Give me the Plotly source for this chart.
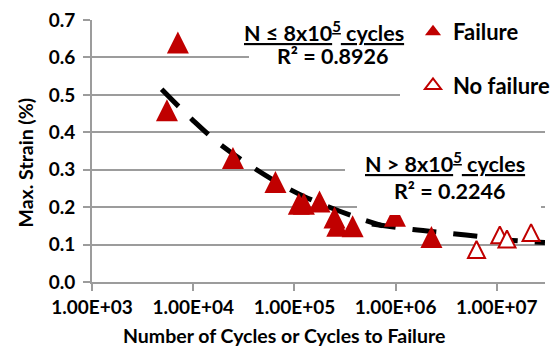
import plotly.graph_objects as go

RED = "#C00000"
GRID = "#9C9C9C"
FONT = "Lato"

# Fatigue results: cycles reached and peak strain (%)
fail_cycles = [5500, 7060, 24700, 64900, 110600, 124000, 177000, 249000, 265000, 376000, 985000, 2.26e6]
fail_strain = [0.459, 0.640, 0.331, 0.267, 0.209, 0.209, 0.215, 0.172, 0.150, 0.149, 0.177, 0.120]
runout_cycles = [6.30e6, 1.07e7, 1.26e7, 2.18e7]
runout_strain = [0.087, 0.126, 0.115, 0.132]

# Power-law trend lines, sampled along each fit
trend_low_cycles = [4875, 9770, 19680, 61380, 121340, 396300, 748000]
trend_low_strain = [0.515, 0.434, 0.362, 0.273, 0.230, 0.174, 0.150]
trend_high_cycles = [5.82e5, 1.48e6, 4.95e6, 1.29e7, 2.99e7]
trend_high_strain = [0.155, 0.140, 0.1257, 0.1123, 0.1056]

x_tick_vals = [1e3, 1e4, 1e5, 1e6, 1e7]
x_tick_text = ["1.00E+03", "1.00E+04", "1.00E+05", "1.00E+06", "1.00E+07"]
y_tick_vals = [0.0, 0.1, 0.2, 0.3, 0.4, 0.5, 0.6, 0.7]

W, H = 558, 346
ML, MR, MT, MB = 92, 13, 20, 64
PW, PH = W - ML - MR, H - MT - MB


def px_x(p):
    return (p - ML) / PW


def px_y(p):
    return (H - MB - p) / PH


fig = go.Figure()

trend_line = dict(color="black", width=5, dash="24px,17px")
fig.add_trace(go.Scatter(x=trend_low_cycles, y=trend_low_strain, mode="lines",
                         line=trend_line, line_shape="spline", showlegend=False,
                         hoverinfo="skip"))
fig.add_trace(go.Scatter(x=trend_high_cycles, y=trend_high_strain, mode="lines",
                         line=trend_line, line_shape="spline", showlegend=False,
                         hoverinfo="skip"))

# upright triangles centred on each point (arrow-down flipped, pushed back by half its height)
fig.add_trace(go.Scatter(
    x=fail_cycles, y=fail_strain, mode="markers", name="Failure",
    showlegend=False,
    marker=dict(symbol="arrow-down", angle=180, size=22, standoff=11, color=RED,
                line=dict(width=0)),
))
fig.add_trace(go.Scatter(
    x=runout_cycles, y=runout_strain, mode="markers", name="No failure",
    showlegend=False,
    marker=dict(symbol="arrow-down", angle=180, size=17, standoff=8.5, color="white",
                line=dict(width=2, color=RED)),
))

# legend entries (the legend does not apply marker standoff, so use plain triangles)
fig.add_trace(go.Scatter(
    x=[None], y=[None], mode="markers", name="Failure", legendgroup="fail",
    marker=dict(symbol="triangle-up", size=14, color=RED, line=dict(width=0)),
))
fig.add_trace(go.Scatter(
    x=[None], y=[None], mode="markers", name="No failure", legendgroup="runout",
    marker=dict(symbol="triangle-up", size=14, color="white",
                line=dict(width=2, color=RED)),
))

# white text-box backgrounds that sit over the gridlines
boxes = [
    (226, 558, 8, 42),
    (249, 558, 42, 78),
    (400, 558, 78, 115),
    (345, 558, 148, 190),
    (357, 541, 190, 215),
]
for x0, x1, y0, y1 in boxes:
    fig.add_shape(type="rect", xref="paper", yref="paper",
                  x0=px_x(x0), x1=px_x(x1), y0=px_y(y1), y1=px_y(y0),
                  fillcolor="white", line=dict(width=0), layer="above")

label_font = dict(family=FONT, size=21.5, color="black", weight="bold")
labels = [
    ("<u>N ≤ 8x10<sup>5</sup> cycles</u>", 324, 31),
    ("R² = 0.8926", 332, 56),
    ("<u>N > 8x10<sup>5</sup> cycles</u>", 445, 162),
    ("R² = 0.2246", 449, 191),
]
for text, cx, cy in labels:
    fig.add_annotation(text=text, xref="paper", yref="paper",
                       x=px_x(cx), y=px_y(cy), xanchor="center", yanchor="middle",
                       showarrow=False, font=label_font, borderpad=0)

title_font = dict(family=FONT, size=19.5, color="black", weight="bold")
fig.add_annotation(text="Number of Cycles or Cycles to Failure", xref="paper", yref="paper",
                   x=px_x(283.5), y=px_y(335), xanchor="center", yanchor="middle",
                   showarrow=False, font=title_font, borderpad=0)
fig.add_annotation(text="Max. Strain (%)", xref="paper", yref="paper",
                   x=px_x(25), y=px_y(162.5), xanchor="center", yanchor="middle",
                   textangle=-90, showarrow=False, font=title_font)

tick_font = dict(family=FONT, size=19, color="black", weight="bold")
fig.update_xaxes(type="log", range=[3, 7.476], tickvals=x_tick_vals, ticktext=x_tick_text,
                 showgrid=False, showline=True, linecolor=GRID, linewidth=2,
                 ticks="outside", ticklen=7, tickwidth=2, tickcolor=GRID,
                 tickfont=tick_font, zeroline=False, automargin=False)
fig.update_yaxes(range=[0, 0.7], tickvals=y_tick_vals, tickformat=".1f",
                 showgrid=True, gridcolor=GRID, gridwidth=2,
                 showline=True, linecolor=GRID, linewidth=2,
                 ticks="outside", ticklen=7, tickwidth=2, tickcolor=GRID,
                 tickfont=tick_font, zeroline=False, automargin=False,
                 ticklabelstandoff=4)

fig.update_layout(
    width=W, height=H,
    margin=dict(l=ML, r=MR, t=MT, b=MB, autoexpand=False),
    paper_bgcolor="white", plot_bgcolor="white",
    font=dict(family=FONT, color="black"),
    legend=dict(x=px_x(413), y=px_y(11), xanchor="left", yanchor="top",
                font=dict(family=FONT, size=22, color="black", weight="bold"),
                tracegroupgap=22, bgcolor="rgba(0,0,0,0)"),
)

fig.write_html("out.html", config={"displayModeBar": False})
